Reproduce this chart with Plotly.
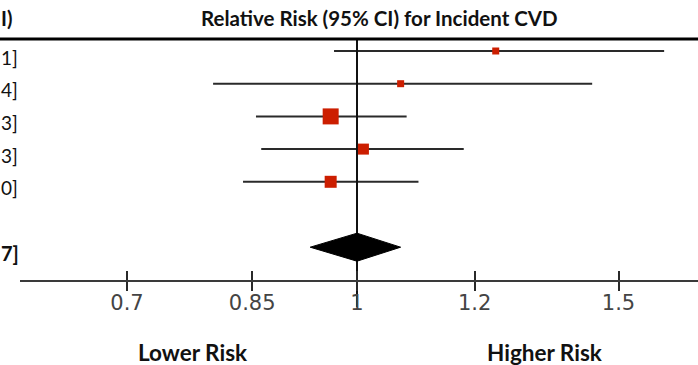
import plotly.graph_objects as go

# ---- data ----
row_labels = ["1]", "4]", "3]", "3]", "0]"]
estimates = [1.24, 1.07, 0.96, 1.01, 0.96]
lower_ci = [0.965, 0.80, 0.855, 0.862, 0.838]
upper_ci = [1.61, 1.44, 1.08, 1.18, 1.10]
marker_sizes = [7, 7, 16, 11, 12]
pooled_label = "7]"
pooled_est = 1.00
pooled_low = 0.93
pooled_high = 1.07
tick_vals = [0.7, 0.85, 1, 1.2, 1.5]
tick_text = ["0.7", "0.85", "1", "1.2", "1.5"]

W, H = 698, 365
ROW0_PX = 51.0
ROW_STEP = 32.7
def px_to_idx(py):
    return (py - ROW0_PX) / ROW_STEP

y_top = px_to_idx(0)
y_bot = px_to_idx(H)
rows = list(range(len(estimates)))
pooled_row = 6

x_left_px, x_one_px, px_per_dec = 20, 357, 1485.0
xr = [(x_left_px - x_one_px) / px_per_dec, (W - x_one_px) / px_per_dec]
xdomain = [x_left_px / W, 1]
axis_y_px = 281
axis_pos = 1 - axis_y_px / H

fig = go.Figure()

# CI lines
cx, cy = [], []
for r, lo, hi in zip(rows, lower_ci, upper_ci):
    cx += [lo, hi, None]
    cy += [r, r, None]
fig.add_trace(go.Scatter(x=cx, y=cy, mode="lines",
                         line=dict(color="#2a2a2a", width=2), hoverinfo="skip"))

# reference line at 1
fig.add_trace(go.Scatter(x=[1, 1], y=[px_to_idx(39), px_to_idx(307)], mode="lines",
                         line=dict(color="#111111", width=2), hoverinfo="skip"))

# point estimates
fig.add_trace(go.Scatter(x=estimates, y=rows, mode="markers",
                         marker=dict(symbol="square", size=marker_sizes, color="#CC1E00",
                                     opacity=1, line=dict(width=0)), hoverinfo="skip"))

# pooled diamond
hh = 14 / ROW_STEP
fig.add_trace(go.Scatter(
    x=[pooled_low, pooled_est, pooled_high, pooled_est, pooled_low],
    y=[pooled_row, pooled_row - hh, pooled_row, pooled_row + hh, pooled_row],
    mode="lines", fill="toself", fillcolor="#000000",
    line=dict(color="#000000", width=1), hoverinfo="skip"))

# second x axis for downward tick halves
fig.add_trace(go.Scatter(x=[1], y=[y_top], xaxis="x2", mode="markers",
                         marker=dict(size=1, opacity=0), hoverinfo="skip"))

fig.update_layout(
    width=W, height=H, margin=dict(l=0, r=0, t=0, b=0),
    paper_bgcolor="white", plot_bgcolor="white", showlegend=False,
    xaxis=dict(type="log", range=xr, domain=xdomain, anchor="free", position=axis_pos,
               showgrid=False, zeroline=False, showline=True, linecolor="#3a3a3a", linewidth=2,
               ticks="inside", ticklen=9, tickwidth=2, tickcolor="#2a2a2a",
               tickvals=tick_vals, ticktext=tick_text, ticklabelstandoff=3,
               tickfont=dict(family="DejaVu Sans", size=21, color="#444444")),
    xaxis2=dict(type="log", range=xr, domain=xdomain, anchor="free", position=axis_pos,
                overlaying="x", side="bottom", showgrid=False, zeroline=False, showline=False,
                ticks="outside", ticklen=9, tickwidth=2, tickcolor="#2a2a2a",
                tickvals=tick_vals, showticklabels=False),
    yaxis=dict(range=[y_bot, y_top], domain=[0, 1], visible=False, showgrid=False),
)

# top separator line
fig.add_shape(type="line", xref="paper", yref="y", x0=0, x1=1,
              y0=px_to_idx(39), y1=px_to_idx(39), line=dict(color="#000000", width=3))

# texts
fig.add_annotation(text="<b>Relative Risk (95% CI) for Incident CVD</b>", xref="paper", yref="paper",
                   x=379 / W, y=1 - 18 / H, showarrow=False, xanchor="center", yanchor="middle",
                   font=dict(family="Lato", size=20.5, color="#111111"))
fig.add_annotation(text="<b>I)</b>", xref="paper", yref="paper", x=0, y=1 - 18 / H,
                   showarrow=False, xanchor="left", yanchor="middle", borderpad=0,
                   font=dict(family="Lato", size=20, color="#111111"))
for r, lab in zip(rows, row_labels):
    fig.add_annotation(text=lab, xref="paper", yref="y", x=0, y=r + 6 / ROW_STEP,
                       showarrow=False, xanchor="left", yanchor="middle", borderpad=0,
                       font=dict(family="Lato", size=19, color="#111111"))
fig.add_annotation(text="<b>" + pooled_label + "</b>", xref="paper", yref="y", x=0,
                   y=pooled_row + 6 / ROW_STEP, showarrow=False, xanchor="left", yanchor="middle",
                   borderpad=0, font=dict(family="Lato", size=20, color="#111111"))
fig.add_annotation(text="<b>Lower Risk</b>", xref="paper", yref="paper", x=193 / W, y=1 - 352 / H,
                   showarrow=False, xanchor="center", yanchor="middle",
                   font=dict(family="Lato", size=22.5, color="#111111"))
fig.add_annotation(text="<b>Higher Risk</b>", xref="paper", yref="paper", x=545 / W, y=1 - 352 / H,
                   showarrow=False, xanchor="center", yanchor="middle",
                   font=dict(family="Lato", size=22.5, color="#111111"))

fig.write_html("out.html")
